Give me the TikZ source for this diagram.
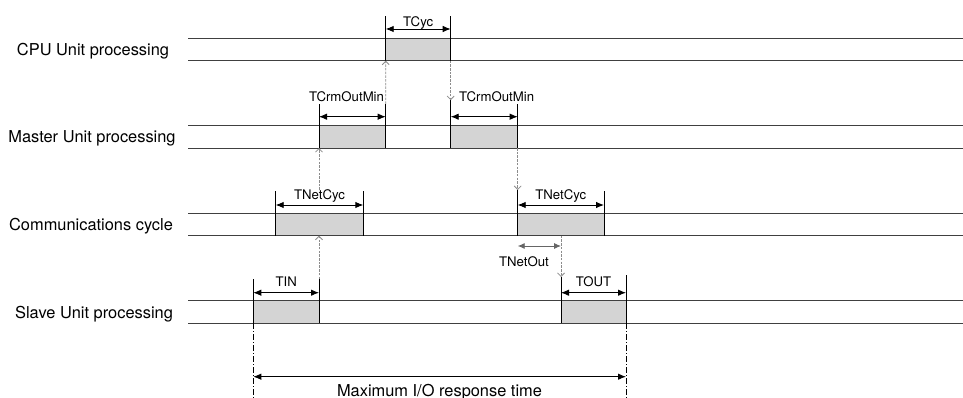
\documentclass[tikz,border=0pt]{standalone}
\usepackage{fontspec}
\setmainfont{TeX Gyre Heros}
\usetikzlibrary{arrows.meta}
\begin{document}
\begin{tikzpicture}[x=1pt,y=-1pt,
  rowline/.style={draw=black!75, line width=1.1pt},
  procbox/.style={fill=black!17, draw=none, inner sep=0pt, outer sep=0pt, minimum height=22.4pt, anchor=north west},
  tick/.style={draw=black, line width=0.9pt},
  dim/.style={draw=black, line width=0.9pt, {Latex[length=8pt,width=6.5pt]}-{Latex[length=8pt,width=6.5pt]}},
  graydim/.style={draw=black!60, line width=0.9pt, {Latex[length=7pt,width=6pt]}-{Latex[length=7pt,width=6pt]}},
  sig/.style={draw=black!45, line width=0.8pt, dash pattern=on 2.5pt off 1.2pt, -{Straight Barb[length=3.5pt,width=7pt]}},
  dashdotline/.style={draw=black, line width=0.6pt, dash pattern=on 6pt off 2pt on 1pt off 2pt},
  rowlabel/.style={font=\fontsize{16.4}{19}\selectfont, anchor=base, inner sep=0pt},
  dimlabel/.style={font=\fontsize{13.2}{15}\selectfont, anchor=base, inner sep=0pt},
]
\useasboundingbox (0,0) rectangle (963,398);

% processing boxes
\node[procbox, minimum width=65pt]   (cpu) at (385.7,38.3) {};
\node[procbox, minimum width=66.7pt] (m1)  at (319,125.7) {};
\node[procbox, minimum width=67pt]   (m2)  at (450.7,125.7) {};
\node[procbox, minimum width=87.6pt] (c1)  at (275.7,213.3) {};
\node[procbox, minimum width=86.3pt] (c2)  at (517.7,213.3) {};
\node[procbox, minimum width=65.7pt] (s1)  at (253.3,300.8) {};
\node[procbox, minimum width=65pt]   (s2)  at (561,300.8) {};

% row lines
\foreach \t in {38.3,125.7,213.3,300.8}{
  \draw[rowline] (188,\t) -- (963,\t);
  \draw[rowline] (188,\t+22.4) -- (963,\t+22.4);
}

% row labels
\node[rowlabel] (lcpu) at (93,55.5)  {CPU Unit processing};
\node[rowlabel] (lmas) at (92,142.9) {Master Unit processing};
\node[rowlabel] (lcom) at (91,230.5) {Communications cycle};
\node[rowlabel] (lsla) at (94,318)   {Slave Unit processing};

% CPU
\draw[tick] (cpu.south west) -- ++(0,-44.3) coordinate (cpuTL);
\draw[tick] (cpu.south east) -- ++(0,-44.3) coordinate (cpuTR);
\coordinate (cpuA) at ([yshift=9.3pt]cpu.north west);
\coordinate (cpuB) at ([yshift=9.3pt]cpu.north east);
\draw[dim] (cpuA) -- (cpuB);
\node[dimlabel] (lcyc) at ([yshift=11.8pt]cpu.north) {TCyc};

% Master 1
\draw[tick] (m1.south west) -- ++(0,-44.3) coordinate (m1TL);
\draw[tick] (m1.south east) -- ++(0,-44.3) coordinate (m1TR);
\coordinate (m1A) at ([yshift=9pt]m1.north west);
\coordinate (m1B) at ([yshift=9pt]m1.north east);
\draw[dim] (m1A) -- (m1B);
\node[dimlabel, anchor=base east] (lm1) at ([xshift=-1.5pt,yshift=24.2pt]m1.north east) {TCrmOutMin};

% Master 2
\draw[tick] (m2.south west) -- ++(0,-48) coordinate (m2TL);
\draw[tick] (m2.south east) -- ++(0,-44.3) coordinate (m2TR);
\coordinate (m2A) at ([yshift=9pt]m2.north west);
\coordinate (m2B) at ([yshift=9pt]m2.north east);
\draw[dim] (m2A) -- (m2B);
\node[dimlabel, anchor=base west] (lm2) at ([xshift=8.3pt,yshift=24.2pt]m2.north west) {TCrmOutMin};

% Comm 1
\draw[tick] (c1.south west) -- ++(0,-44.7) coordinate (c1TL);
\draw[tick] (c1.south east) -- ++(0,-44.7) coordinate (c1TR);
\coordinate (c1A) at ([yshift=8.3pt]c1.north west);
\coordinate (c1B) at ([yshift=8.3pt]c1.north east);
\draw[dim] (c1A) -- (c1B);
\node[dimlabel] (lc1) at ([yshift=13.3pt]c1.north) {TNetCyc};

% Comm 2
\draw[tick] (c2.south west) -- ++(0,-45.7) coordinate (c2TL);
\draw[tick] (c2.south east) -- ++(0,-44.7) coordinate (c2TR);
\coordinate (c2A) at ([yshift=8.3pt]c2.north west);
\coordinate (c2B) at ([yshift=8.3pt]c2.north east);
\draw[dim] (c2A) -- (c2B);
\node[dimlabel] (lc2) at ([yshift=13.3pt]c2.north) {TNetCyc};

% TNetOut
\coordinate (noA) at ([yshift=-10.3pt]c2.south west);
\coordinate (noB) at (noA -| s2.north west);
\draw[graydim] (noA) -- (noB);
\node[dimlabel] (lno) at (524,266) {TNetOut};

% Slave 1
\draw[tick] (s1.south west) -- ++(0,-44.2) coordinate (s1TL);
\draw[tick] (s1.south east) -- ++(0,-44.2) coordinate (s1TR);
\coordinate (s1A) at ([yshift=8.1pt]s1.north west);
\coordinate (s1B) at ([yshift=8.1pt]s1.north east);
\draw[dim] (s1A) -- (s1B);
\node[dimlabel] (ls1) at ([yshift=14.1pt]s1.north) {TIN};

% Slave 2
\draw[tick] (s2.south west) -- ++(0,-46.2) coordinate (s2TL);
\draw[tick] (s2.south east) -- ++(0,-48.2) coordinate (s2TR);
\coordinate (s2A) at ([yshift=8.1pt]s2.north west);
\coordinate (s2B) at ([yshift=8.1pt]s2.north east);
\draw[dim] (s2A) -- (s2B);
\node[dimlabel] (ls2) at ([yshift=14.1pt]s2.north) {TOUT};

% signal flow (dotted)
\draw[sig] (m1TR) -- (cpu.south west);
\draw[sig] (cpu.south east) -- (m2TL);
\draw[sig] (lc1.north -| m1.south west) -- (m1.south west);
\draw[sig] (m2.south east) -- (c2TL);
\draw[sig] (s1TR) -- (c1.south -| s1.north east);
\draw[sig] (c2.south -| s2.north west) -- (s2TL);

% maximum I/O response time
\draw[dashdotline] (s1.south west) -- ++(0,75) coordinate (mxL);
\draw[dashdotline] (s2.south east) -- ++(0,75) coordinate (mxR);
\coordinate (mxA) at ([yshift=-53.5pt]s1.south west);
\coordinate (mxB) at (mxA -| s2.south east);
\draw[dim] (mxA) -- (mxB);
\node[rowlabel] (lmax) at (439.5,396) {Maximum I/O response time};
\end{tikzpicture}
\end{document}
